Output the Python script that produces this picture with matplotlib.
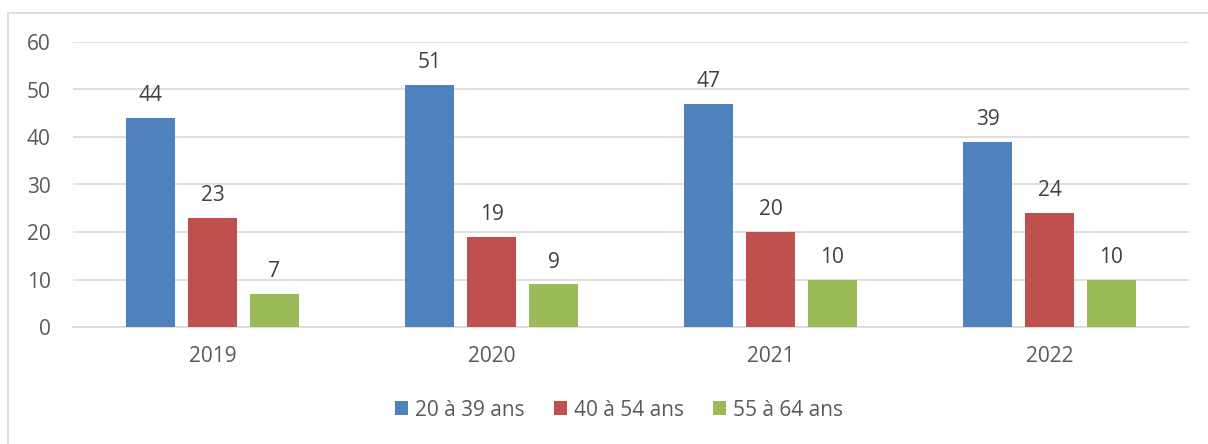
import matplotlib
matplotlib.use("Agg")
import matplotlib.pyplot as plt
import numpy as np
from matplotlib.patches import Rectangle, Patch

years = ["2019", "2020", "2021", "2022"]
series_names = ["20 à 39 ans", "40 à 54 ans", "55 à 64 ans"]
s_20_39 = [44, 51, 47, 39]
s_40_54 = [23, 19, 20, 24]
s_55_64 = [7, 9, 10, 10]
colors = ["#4F81BD", "#C0504D", "#9BBB59"]

plt.rcParams['font.family'] = ['Open Sans', 'DejaVu Sans']

W, H = 1208, 444
fig = plt.figure(figsize=(W / 100, H / 100), dpi=100)
ax = fig.add_axes([73 / W, 1 - 327 / H, (1189 - 73) / W, (327 - 42) / H])

x = np.arange(len(years))
bw = 0.176
step = 0.222
series = [s_20_39, s_40_54, s_55_64]
for i, (vals, col, name) in enumerate(zip(series, colors, series_names)):
    pos = x + (i - 1) * step
    bars = ax.bar(pos, vals, width=bw, color=col, label=name, zorder=3)
    for b, v in zip(bars, vals):
        ax.annotate(str(v), (b.get_x() + b.get_width() / 2, v), xytext=(0, 12),
                    textcoords="offset points", ha="center", va="baseline",
                    fontsize=15, color="#404040")

ax.set_xlim(-0.5, len(years) - 0.5)
ax.set_ylim(0, 60)
ax.set_yticks(range(0, 61, 10))
ax.yaxis.grid(True, color="#D9D9D9", linewidth=1.2, zorder=0)
ax.set_axisbelow(True)
for s in ["top", "right", "left"]:
    ax.spines[s].set_visible(False)
ax.spines["bottom"].set_color("#D9D9D9")
ax.spines["bottom"].set_linewidth(1.2)
ax.set_xticks(x)
ax.set_xticklabels(years)
ax.tick_params(axis="both", length=0, labelsize=15, labelcolor="#595959")
ax.tick_params(axis="y", pad=16)
ax.tick_params(axis="x", pad=14)

handles = [Patch(facecolor=c, edgecolor="none") for c in colors]
fig.legend(handles, series_names, loc="center", bbox_to_anchor=(619 / W, 1 - 410 / H),
           ncol=3, frameon=False, fontsize=15, labelcolor="#595959",
           handlelength=0.62, handleheight=0.62, handletextpad=0.35, columnspacing=1.4)

fig.add_artist(Rectangle((8 / W, -0.1), 1.2, (1 - 13 / H) + 0.1, transform=fig.transFigure,
                         fill=False, edgecolor="#D9D9D9", linewidth=1.2))

fig.savefig("out.png", dpi=100)
